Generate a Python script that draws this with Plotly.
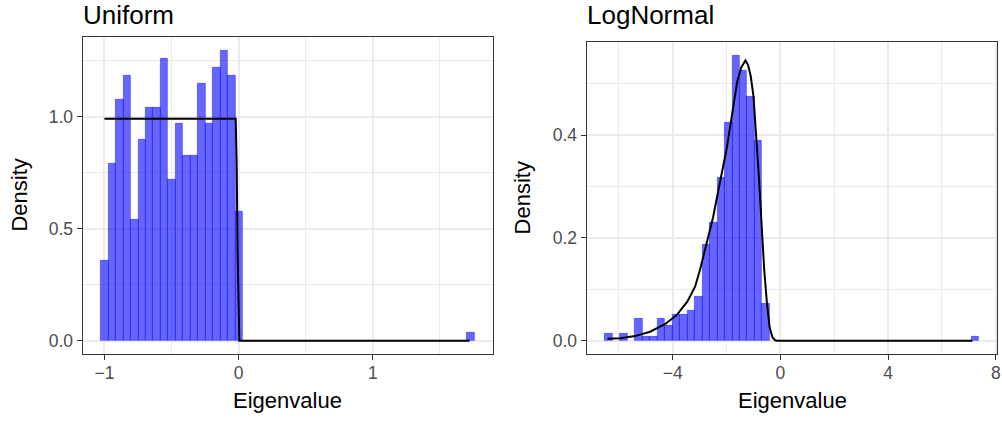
import plotly.graph_objects as go

# ---------------- data ----------------
N_EIGEN = 500

uniform_bin_start = -1.027
uniform_bin_width = 0.0557
uniform_counts = [10, 22, 30, 33, 15, 25, 29, 29, 35, 20,
                  27, 23, 23, 32, 27, 34, 36, 33, 16, 0,
                  0, 0, 0, 0, 0, 0, 0, 0, 0, 0,
                  0, 0, 0, 0, 0, 0, 0, 0, 0, 0,
                  0, 0, 0, 0, 0, 0, 0, 0, 0, 1]
uniform_curve_x = [-1.0, -0.022, -0.015, -0.008, 0.005, 1.72]
uniform_curve_y = [0.991, 0.991, 0.80, 0.40, 0.0, 0.0]

lognormal_bin_start = -6.516
lognormal_bin_width = 0.278
lognormal_counts = [2, 0, 2, 0, 6, 1, 1, 6, 4, 7,
                    7, 8, 12, 26, 32, 44, 59, 77, 73, 66,
                    54, 10, 0, 0, 0, 0, 0, 0, 0, 0,
                    0, 0, 0, 0, 0, 0, 0, 0, 0, 0,
                    0, 0, 0, 0, 0, 0, 0, 0, 0, 1]
lognormal_curve_x = [-6.42, -5.95, -5.40, -4.84, -4.29, -3.85, -3.46, -3.17,
                     -2.99, -2.80, -2.50, -2.20, -2.00, -1.80, -1.60, -1.45,
                     -1.30, -1.20, -1.10, -1.00, -0.90, -0.80, -0.70, -0.60,
                     -0.50, -0.40, -0.30, -0.20, -0.10, 7.13]
lognormal_curve_y = [0.004, 0.005, 0.009, 0.0175, 0.032, 0.050, 0.076, 0.105,
                     0.137, 0.178, 0.240, 0.320, 0.372, 0.438, 0.505, 0.532,
                     0.545, 0.536, 0.514, 0.475, 0.405, 0.320, 0.228, 0.137,
                     0.073, 0.026, 0.007, 0.001, 0.0, 0.0]

titles = ["Uniform", "LogNormal"]
x_title = "Eigenvalue"
y_title = "Density"

# ---------------- styling ----------------
W, H = 1002, 424
FONT = "Liberation Sans, Arial, Helvetica, sans-serif"
FILL = "rgba(0,0,255,0.6)"
EDGE = "rgba(0,0,255,0.6)"
GRID = "#EBEBEB"
FRAME = "#333333"


def px_x(p):
    return p / W


def px_y(p):
    return 1 - p / H


fig = go.Figure()


def add_hist(counts, start, width, xa, ya):
    xs, ys = [], []
    for i, c in enumerate(counts):
        if c > 0:
            xs.append(start + (i + 0.5) * width)
            ys.append(c / (N_EIGEN * width))
    fig.add_trace(go.Bar(x=xs, y=ys, width=width, xaxis=xa, yaxis=ya,
                         marker=dict(color=FILL, line=dict(color=EDGE, width=0.7)),
                         showlegend=False, hoverinfo="x+y"))


add_hist(uniform_counts, uniform_bin_start, uniform_bin_width, "x", "y")
fig.add_trace(go.Scatter(x=uniform_curve_x, y=uniform_curve_y, mode="lines",
                         line=dict(color="black", width=2), xaxis="x", yaxis="y",
                         showlegend=False))
add_hist(lognormal_counts, lognormal_bin_start, lognormal_bin_width, "x2", "y2")
fig.add_trace(go.Scatter(x=lognormal_curve_x, y=lognormal_curve_y, mode="lines",
                         line=dict(color="black", width=2), xaxis="x2", yaxis="y2",
                         showlegend=False))

tickfont = dict(family=FONT, size=17.5, color="#4D4D4D")


def axis(domain, rng, dtick, minor_dtick, anchor, standoff, fmt=None):
    d = dict(domain=domain, range=rng, anchor=anchor, dtick=dtick, tick0=0,
             showgrid=True, gridcolor=GRID, gridwidth=1.6,
             minor=dict(dtick=minor_dtick, tick0=0, showgrid=True,
                        gridcolor=GRID, gridwidth=0.8, ticks=""),
             zeroline=False, showline=True, mirror=True, linecolor=FRAME,
             linewidth=1.3, ticks="outside", ticklen=5, tickwidth=1.4,
             tickcolor=FRAME, tickfont=tickfont, layer="below traces",
             ticklabelstandoff=standoff, automargin=False)
    if fmt:
        d["tickformat"] = fmt
    return d


left_x = [px_x(82.7), px_x(493.0)]
right_x = [px_x(586.7), px_x(997.3)]
left_y = [px_y(354.3), px_y(36.7)]
right_y = [px_y(354.3), px_y(41.7)]

fig.update_layout(
    width=W, height=H,
    margin=dict(l=0, r=0, t=0, b=0),
    paper_bgcolor="white", plot_bgcolor="white",
    bargap=0, barmode="overlay",
    font=dict(family=FONT, color="black"),
    xaxis=axis(left_x, [-1.162, 1.895], 1, 0.5, "y", -2),
    yaxis=axis(left_y, [-0.0607, 1.357], 0.5, 0.25, "x", 0, ".1f"),
    xaxis2=axis(right_x, [-7.195, 8.057], 4, 2, "y2", -2),
    yaxis2=axis(right_y, [-0.0264, 0.5814], 0.2, 0.1, "x2", 0, ".1f"),
)

annos = []
# panel titles
annos.append(dict(text=titles[0], x=px_x(80.7), y=px_y(14.5), xref="paper", yref="paper",
                  xanchor="left", yanchor="middle", showarrow=False,
                  font=dict(family=FONT, size=26, color="black")))
annos.append(dict(text=titles[1], x=px_x(584.7), y=px_y(14.5), xref="paper", yref="paper",
                  xanchor="left", yanchor="middle", showarrow=False,
                  font=dict(family=FONT, size=26, color="black")))
# axis titles
for cx in [287.8, 792.0]:
    annos.append(dict(text=x_title, x=px_x(cx), y=px_y(400.7), xref="paper", yref="paper",
                      xanchor="center", yanchor="middle", showarrow=False,
                      font=dict(family=FONT, size=22, color="black")))
for cx, cy in [(19.1, 195.5), (522.4, 198.0)]:
    annos.append(dict(text=y_title, x=px_x(cx), y=px_y(cy), xref="paper", yref="paper",
                      xanchor="center", yanchor="middle", textangle=-90, showarrow=False,
                      font=dict(family=FONT, size=22, color="black")))
fig.update_layout(annotations=annos)

fig.write_html("out.html", config={"displayModeBar": False},
               post_script="document.body.style.margin='0';document.body.style.overflow='hidden';")
